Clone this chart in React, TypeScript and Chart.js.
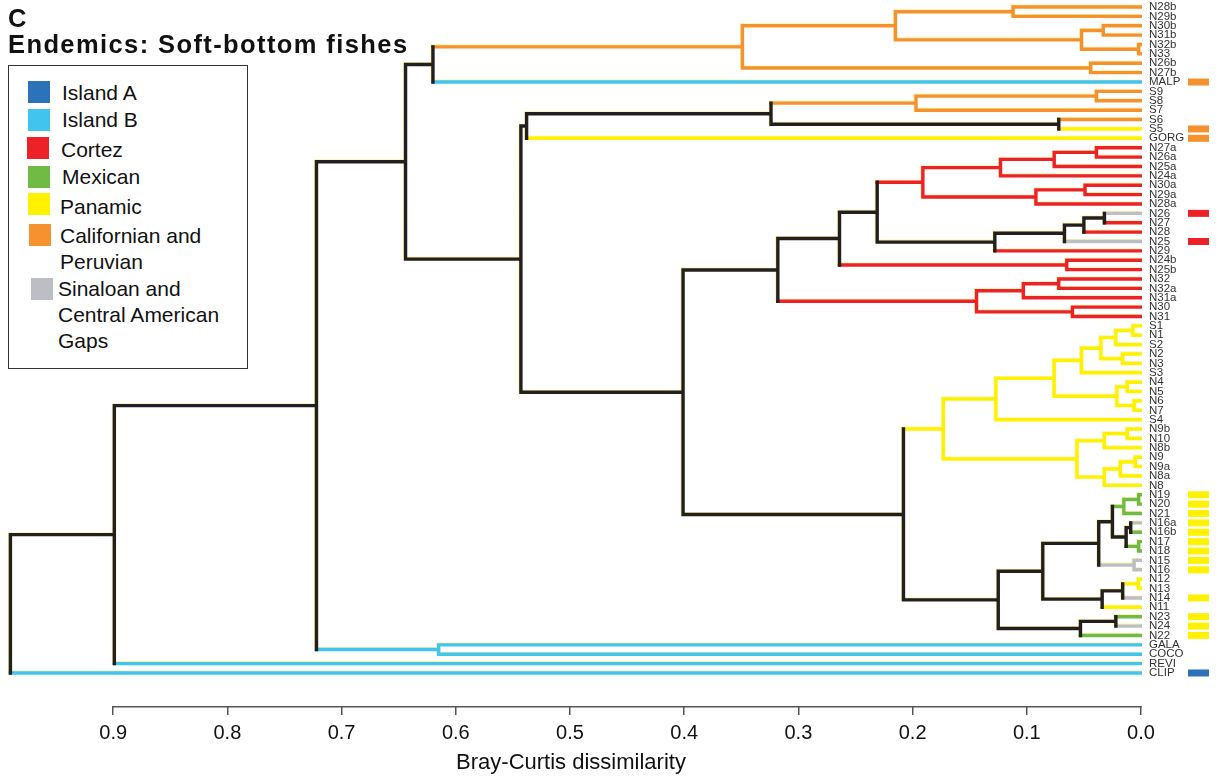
import React, { useEffect, useRef } from "react";
import { Chart, registerables } from "chart.js";

Chart.register(...registerables);

// ---------- data ----------
const leafLabels = [
  "N28b", "N29b", "N30b", "N31b", "N32b", "N33", "N26b", "N27b", "MALP",
  "S9", "S8", "S7", "S6", "S5", "GORG",
  "N27a", "N26a", "N25a", "N24a", "N30a", "N29a", "N28a",
  "N26", "N27", "N28", "N25", "N29", "N24b", "N25b",
  "N32", "N32a", "N31a", "N30", "N31",
  "S1", "N1", "S2", "N2", "N3", "S3", "N4", "N5", "N6", "N7", "S4",
  "N9b", "N10", "N8b", "N9", "N9a", "N8a", "N8",
  "N19", "N20", "N21", "N16a", "N16b", "N17", "N18", "N15", "N16",
  "N12", "N13", "N14", "N11", "N23", "N24", "N22",
  "GALA", "COCO", "REVI", "CLIP",
];

// region of the branch leading to each leaf
const leafRegion = [
  "CalPer", "CalPer", "CalPer", "CalPer", "CalPer", "CalPer", "CalPer", "CalPer", "IslandB",
  "CalPer", "CalPer", "CalPer", "CalPer", "Panamic", "Panamic",
  "Cortez", "Cortez", "Cortez", "Cortez", "Cortez", "Cortez", "Cortez",
  "Gap", "Cortez", "Cortez", "Gap", "Cortez", "Cortez", "Cortez",
  "Cortez", "Cortez", "Cortez", "Cortez", "Cortez",
  "Panamic", "Panamic", "Panamic", "Panamic", "Panamic", "Panamic", "Panamic", "Panamic", "Panamic", "Panamic", "Panamic",
  "Panamic", "Panamic", "Panamic", "Panamic", "Panamic", "Panamic", "Panamic",
  "Mexican", "Mexican", "Mexican", "Gap", "Mexican", "Mexican", "Mexican", "Gap", "Gap",
  "Panamic", "Panamic", "Gap", "Panamic", "Mexican", "Gap", "Mexican",
  "IslandB", "IslandB", "IslandB", "IslandB",
];

// side markers (leaf, region)
const markerLeaves = [
  "MALP", "S5", "GORG", "N26", "N25",
  "N19", "N20", "N21", "N16a", "N16b", "N17", "N18", "N15", "N16",
  "N14", "N23", "N24", "N22", "CLIP",
];
const markerRegions = [
  "CalPer", "CalPer", "CalPer", "Cortez", "Cortez",
  "Panamic", "Panamic", "Panamic", "Panamic", "Panamic", "Panamic", "Panamic", "Panamic", "Panamic",
  "Panamic", "Panamic", "Panamic", "Panamic", "IslandA",
];

// linkage: [node, child A, child B, Bray-Curtis height]
const merges: [string, string, string, number][] = [
  ["a1", "N28b", "N29b", 0.112],
  ["a2", "N30b", "N31b", 0.033],
  ["a3", "N32b", "N33", 0.002],
  ["a4", "a2", "a3", 0.052],
  ["a5", "a1", "a4", 0.215],
  ["a6", "N26b", "N27b", 0.044],
  ["a7", "a5", "a6", 0.349],
  ["a8", "a7", "MALP", 0.620],
  ["b1", "S9", "S8", 0.039],
  ["b2", "b1", "S7", 0.197],
  ["b3", "S6", "S5", 0.072],
  ["b4", "b2", "b3", 0.324],
  ["b5", "b4", "GORG", 0.538],
  ["c1", "N27a", "N26a", 0.039],
  ["c2", "c1", "N25a", 0.076],
  ["c3", "c2", "N24a", 0.123],
  ["c4", "N30a", "N29a", 0.049],
  ["c5", "c4", "N28a", 0.092],
  ["c6", "c3", "c5", 0.191],
  ["c7", "N26", "N27", 0.032],
  ["c8", "c7", "N28", 0.050],
  ["c9", "c8", "N25", 0.067],
  ["c10", "c9", "N29", 0.128],
  ["c11", "c6", "c10", 0.231],
  ["c12", "N24b", "N25b", 0.065],
  ["c13", "c11", "c12", 0.264],
  ["c14", "N32", "N32a", 0.072],
  ["c15", "c14", "N31a", 0.103],
  ["c16", "N30", "N31", 0.060],
  ["c17", "c15", "c16", 0.144],
  ["c18", "c13", "c17", 0.318],
  ["d1", "S1", "N1", 0.007],
  ["d2", "d1", "S2", 0.022],
  ["d3", "N2", "N3", 0.016],
  ["d4", "d2", "d3", 0.035],
  ["d5", "d4", "S3", 0.052],
  ["d6", "N4", "N5", 0.012],
  ["d7", "N6", "N7", 0.006],
  ["d8", "d6", "d7", 0.021],
  ["d9", "d5", "d8", 0.076],
  ["d10", "d9", "S4", 0.127],
  ["d11", "N9b", "N10", 0.012],
  ["d12", "d11", "N8b", 0.032],
  ["d13", "N9", "N9a", 0.005],
  ["d14", "d13", "N8a", 0.018],
  ["d15", "d14", "N8", 0.032],
  ["d16", "d12", "d15", 0.056],
  ["d17", "d10", "d16", 0.173],
  ["e1", "N19", "N20", 0.002],
  ["e2", "e1", "N21", 0.015],
  ["e3", "N16a", "N16b", 0.009],
  ["e4", "N17", "N18", 0.002],
  ["e5", "e3", "e4", 0.013],
  ["e6", "e2", "e5", 0.025],
  ["e7", "N15", "N16", 0.006],
  ["e8", "e6", "e7", 0.037],
  ["e9", "N12", "N13", 0.002],
  ["e10", "e9", "N14", 0.016],
  ["e11", "e10", "N11", 0.034],
  ["e12", "e8", "e11", 0.086],
  ["e13", "N23", "N24", 0.022],
  ["e14", "e13", "N22", 0.053],
  ["e15", "e12", "e14", 0.125],
  ["e16", "d17", "e15", 0.208],
  ["f1", "c18", "e16", 0.401],
  ["f2", "b5", "f1", 0.543],
  ["f3", "a8", "f2", 0.644],
  ["g1", "GALA", "COCO", 0.615],
  ["f4", "f3", "g1", 0.722],
  ["f5", "f4", "REVI", 0.899],
  ["f6", "f5", "CLIP", 0.990],
];

const xTicks = [0.9, 0.8, 0.7, 0.6, 0.5, 0.4, 0.3, 0.2, 0.1, 0.0];

const legendRegions = ["IslandA", "IslandB", "Cortez", "Mexican", "Panamic", "CalPer", "Gap"];
const legendTexts = [
  ["Island A"],
  ["Island B"],
  ["Cortez"],
  ["Mexican"],
  ["Panamic"],
  ["Californian and", "Peruvian"],
  ["Sinaloan and", "Central American", "Gaps"],
];

// ---------- styles ----------
const regionColor: Record<string, string> = {
  IslandA: "#2b72b9",
  IslandB: "#41c5ef",
  Cortez: "#ec2227",
  Mexican: "#6fbb44",
  Panamic: "#fff200",
  CalPer: "#f5922f",
  Gap: "#bcbec3",
};
const MIXED = "#231f20";
const UNDERLAY = "rgba(240, 228, 60, 0.45)";
const FONT = "'Liberation Sans', Arial, Helvetica, sans-serif";

// legend layout (square x, square y, text x, first text center y)
const legendLayout = [
  [28, 81, 62, 93],
  [28, 109, 62, 120],
  [27, 137, 61, 150],
  [28, 166, 62, 177],
  [28, 193, 60, 207],
  [29, 224, 60, 236],
  [31, 278, 58, 289],
];

function buildDatasets() {
  const nodes: Record<string, { y: number; h: number; color: string }> = {};
  leafLabels.forEach((l, i) => {
    nodes[l] = { y: i, h: 0, color: regionColor[leafRegion[i]] };
  });
  const groups: Record<string, { x: number | null; y: number | null }[]> = {};
  const all: { x: number | null; y: number | null }[] = [];
  const add = (color: string, pts: { x: number; y: number }[]) => {
    if (!groups[color]) groups[color] = [];
    groups[color].push(...pts, { x: null, y: null });
    all.push(...pts, { x: null, y: null });
  };
  for (const [name, a, b, h] of merges) {
    const A = nodes[a];
    const B = nodes[b];
    const color = A.color === B.color ? A.color : MIXED;
    add(A.color, [{ x: A.h, y: A.y }, { x: h, y: A.y }]);
    add(B.color, [{ x: B.h, y: B.y }, { x: h, y: B.y }]);
    add(color, [{ x: h, y: A.y }, { x: h, y: B.y }]);
    nodes[name] = { y: (A.y + B.y) / 2, h, color };
  }
  const common = {
    showLine: true,
    borderWidth: 3.4,
    pointRadius: 0,
    pointHoverRadius: 0,
    spanGaps: false,
    borderCapStyle: "square" as const,
    borderJoinStyle: "miter" as const,
  };
  const sets: any[] = Object.keys(groups).map((color) => ({
    ...common,
    data: groups[color],
    borderColor: color,
    backgroundColor: color,
    order: color === MIXED ? 0 : color === regionColor.Gap ? 2 : 1,
  }));
  sets.push({
    ...common,
    data: all,
    borderColor: UNDERLAY,
    backgroundColor: UNDERLAY,
    order: 5,
    isUnderlay: true,
  });
  return sets;
}

const decorPlugin = {
  id: "dendroDecor",
  beforeDatasetDraw(chart: any, args: any) {
    if (chart.data.datasets[args.index]?.isUnderlay) {
      chart.ctx.save();
      chart.ctx.translate(-0.8, -0.8);
    }
  },
  afterDatasetDraw(chart: any, args: any) {
    if (chart.data.datasets[args.index]?.isUnderlay) {
      chart.ctx.restore();
    }
  },
  afterDraw(chart: any) {
    const { ctx, chartArea, scales } = chart;
    const x = scales.x;
    const y = scales.y;
    ctx.save();
    ctx.strokeStyle = "#555";
    ctx.lineWidth = 1.5;
    ctx.beginPath();
    ctx.moveTo(x.getPixelForValue(xTicks[0]) - 0.75, chartArea.bottom + 0.75);
    ctx.lineTo(x.getPixelForValue(xTicks[xTicks.length - 1]) + 0.75, chartArea.bottom + 0.75);
    ctx.stroke();
    markerLeaves.forEach((leaf, k) => {
      const i = leafLabels.indexOf(leaf);
      const py = y.getPixelForValue(i);
      ctx.fillStyle = regionColor[markerRegions[k]];
      ctx.fillRect(chartArea.right + 46, py - 3.5, 21, 7);
    });
    ctx.restore();
  },
};

export default function App() {
  const ref = useRef<HTMLCanvasElement | null>(null);
  useEffect(() => {
    if (!ref.current) return;
    Chart.defaults.font.family = FONT;
    const chart = new Chart(ref.current, {
      type: "scatter",
      data: { datasets: buildDatasets() as any },
      plugins: [decorPlugin],
      options: {
        responsive: false,
        animation: false,
        events: [],
        layout: { padding: 0 },
        plugins: { legend: { display: false }, tooltip: { enabled: false } },
        scales: {
          x: {
            type: "linear",
            reverse: true,
            min: -0.000876,
            max: 0.99912,
            position: "bottom",
            afterBuildTicks: (s: any) => {
              s.ticks = xTicks.map((v) => ({ value: v }));
            },
            afterFit: (s: any) => {
              s.height = 78;
              s.paddingLeft = 0;
              s.paddingRight = 0;
            },
            grid: {
              display: true,
              drawOnChartArea: false,
              drawTicks: true,
              tickLength: 9,
              color: "#555",
              lineWidth: 1.5,
            },
            border: { display: false },
            ticks: {
              autoSkip: false,
              maxRotation: 0,
              padding: 6,
              color: "#111",
              font: { size: 20, family: FONT },
              callback: (v: any) => Number(v).toFixed(1),
            },
            title: {
              display: true,
              text: "Bray-Curtis dissimilarity",
              color: "#111",
              font: { size: 22, family: FONT },
              padding: { top: 0, bottom: 8 },
            },
          },
          y: {
            type: "linear",
            position: "right",
            reverse: true,
            min: -0.746,
            max: 74.52,
            afterBuildTicks: (s: any) => {
              s.ticks = leafLabels.map((_, i) => ({ value: i }));
            },
            afterFit: (s: any) => {
              s.width = 76;
              s.paddingTop = 0;
              s.paddingBottom = 0;
            },
            grid: { display: false, drawTicks: false },
            border: { display: false },
            ticks: {
              autoSkip: false,
              padding: 7,
              color: "#333",
              font: { size: 11.5, family: FONT },
              callback: (v: any) => leafLabels[v] ?? "",
            },
          },
        },
      },
    });
    return () => chart.destroy();
  }, []);

  return (
    <div style={{ position: "absolute", left: 0, top: 0, width: 1218, height: 784, background: "#fff", fontFamily: FONT }}>
      <canvas ref={ref} width={1218} height={784} style={{ position: "absolute", left: 0, top: 0 }} />
      <div style={{ position: "absolute", left: 8, top: 6, fontSize: 25.5, lineHeight: "25.5px", fontWeight: 700, color: "#111" }}>C</div>
      <div style={{ position: "absolute", left: 8, top: 32, fontSize: 25.5, lineHeight: "25.5px", fontWeight: 700, color: "#111", letterSpacing: 1.4, whiteSpace: "nowrap" }}>
        Endemics: Soft-bottom fishes
      </div>
      <div style={{ position: "absolute", left: 8, top: 65, width: 240, height: 304, boxSizing: "border-box", border: "1.5px solid #333", background: "#fff" }} />
      {legendRegions.map((r, k) => {
        const [sx, sy, tx, cy] = legendLayout[k];
        return (
          <React.Fragment key={r}>
            <div style={{ position: "absolute", left: sx, top: sy, width: 22, height: 22, background: regionColor[r] }} />
            <div style={{ position: "absolute", left: tx, top: cy - 13, fontSize: 21, lineHeight: "26px", color: "#111", whiteSpace: "nowrap" }}>
              {legendTexts[k].map((t, j) => (
                <div key={j}>{t}</div>
              ))}
            </div>
          </React.Fragment>
        );
      })}
    </div>
  );
}
